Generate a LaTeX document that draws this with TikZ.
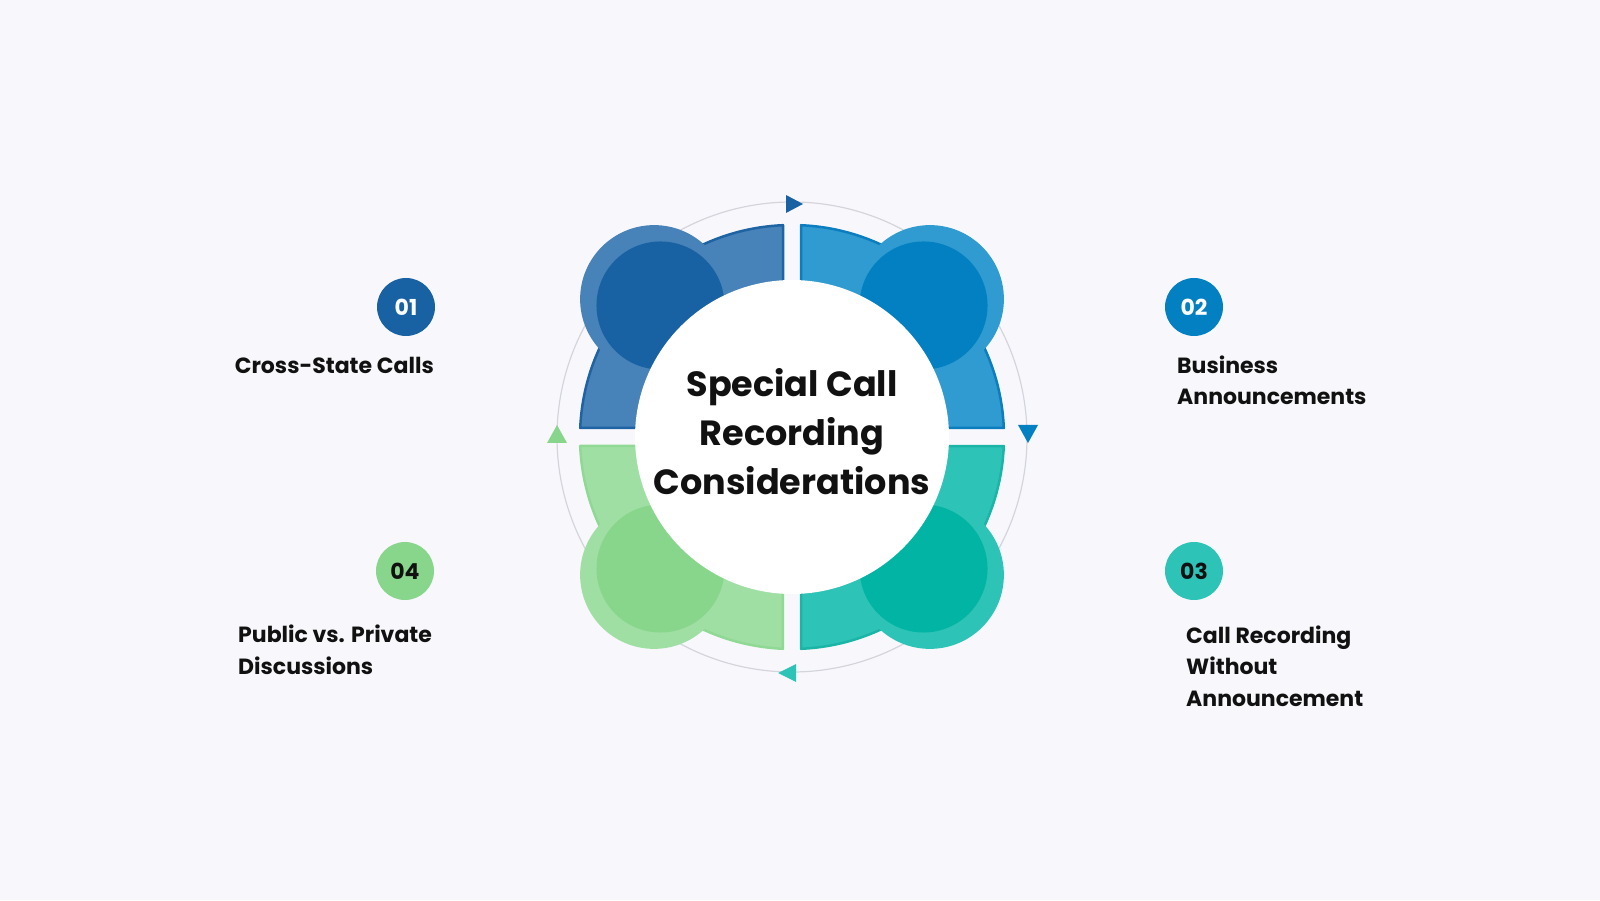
\documentclass[tikz,border=0pt]{standalone}
\usepackage{fontspec}
\setmainfont{Poppins}
\usetikzlibrary{calc}
\definecolor{bgc}{HTML}{F8F8FC}
\definecolor{ringc}{HTML}{D4D4DC}
\definecolor{tlband}{HTML}{4782B8}
\definecolor{tlline}{HTML}{1E63A3}
\definecolor{tldark}{HTML}{1862A3}
\definecolor{trband}{HTML}{2F9BD0}
\definecolor{trline}{HTML}{0C7DBF}
\definecolor{trdark}{HTML}{0380C1}
\definecolor{brband}{HTML}{2EC3B7}
\definecolor{brline}{HTML}{1BB5A8}
\definecolor{brdark}{HTML}{02B4A4}
\definecolor{blband}{HTML}{A0DFA4}
\definecolor{blline}{HTML}{90D995}
\definecolor{bldark}{HTML}{88D68C}
\definecolor{txt}{HTML}{111111}
\tikzset{
  bandshape/.style={line width=2.5pt, line join=round},
  badge/.style={circle, minimum size=58pt, inner sep=0pt, font=\fontsize{22}{26}\selectfont\bfseries},
  lbl/.style={font=\fontsize{22}{31}\selectfont\bfseries, text=txt, inner sep=0pt},
  titletext/.style={font=\fontsize{35}{49}\selectfont\bfseries, text=txt, align=center, inner sep=0pt},
}
\begin{document}
\begin{tikzpicture}[x=1pt,y=1pt]
\useasboundingbox (0,0) rectangle (1600,900);
\fill[bgc] (0,0) rectangle (1600,900);
\coordinate (C) at (792,463);
\begin{scope}[shift={(C)}]
  \draw[ringc, line width=1.2pt] (0,0) circle (235);
  % bands
  \filldraw[bandshape, fill=tlband, draw=tlline] (-9,9) -- (-9,211.8) arc[start angle=92.44, end angle=177.56, radius=212] -- cycle;
  \filldraw[bandshape, fill=trband, draw=trline] (9,9) -- (211.8,9) arc[start angle=2.44, end angle=87.56, radius=212] -- cycle;
  \filldraw[bandshape, fill=brband, draw=brline] (9,-9) -- (9,-211.8) arc[start angle=-87.56, end angle=-2.44, radius=212] -- cycle;
  \filldraw[bandshape, fill=blband, draw=blline] (-9,-9) -- (-211.8,-9) arc[start angle=182.44, end angle=267.56, radius=212] -- cycle;
  % lobes
  \fill[tlband] (135:195) circle (74);
  \fill[tldark] (135:186) circle (64);
  \fill[trband] (45:195) circle (74);
  \fill[trdark] (45:186) circle (64);
  \fill[brband] (-45:195) circle (74);
  \fill[brdark] (-45:186) circle (64);
  \fill[blband] (-135:195) circle (74);
  \fill[bldark] (-135:186) circle (64);
  % centre
  \fill[white] (0,0) circle (157);
  % arrowheads
  \fill[tldark] (-6,242) -- (11,233) -- (-6,224) -- cycle;
  \fill[trdark] (226,12) -- (246,12) -- (236,-6) -- cycle;
  \fill[brband] (4,-227) -- (-14,-236) -- (4,-245) -- cycle;
  \fill[bldark] (-245,-6) -- (-225,-6) -- (-235,12) -- cycle;
\end{scope}
\node[titletext] (title) at ($(C)+(0,5)$) {Special Call\\Recording\\Considerations};
% badges
\node[badge, fill=tldark, text=white] (n1) at (406,593) {01};
\node[badge, fill=trdark, text=white] (n2) at (1194,593) {02};
\node[badge, fill=brband, text=txt] (n3) at (1194,329) {03};
\node[badge, fill=bldark, text=txt] (n4) at (405,329) {04};
% labels (base anchor = baseline of the last line)
\node[lbl, anchor=base east] (l1) at (434,526) {Cross-State Calls};
\node[lbl, anchor=base west, align=left] (l2) at (1177,495) {Business\\Announcements};
\node[lbl, anchor=base west, align=left] (l3) at (1186,194) {Call Recording\\Without\\Announcement};
\node[lbl, anchor=base west, align=left] (l4) at (238,226) {Public vs. Private\\Discussions};
\end{tikzpicture}
\end{document}
